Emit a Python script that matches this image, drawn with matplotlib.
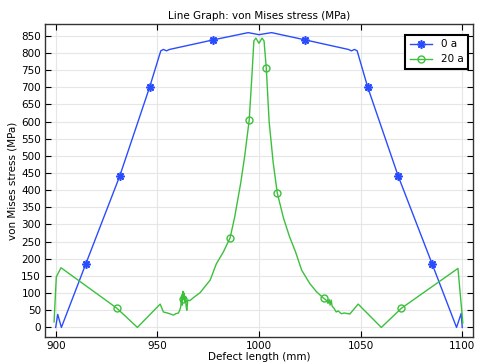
import matplotlib
matplotlib.use("Agg")
import matplotlib.pyplot as plt

# ---- data ----
x_0a = [900, 901, 902.8, 914.8, 931.5, 946.2, 951.7, 953, 954.5, 956, 977.6,
        994.7, 1000, 1006.2, 1022.6, 1044, 1045.5, 1047, 1048.3, 1053.5,
        1068.5, 1085.2, 1097.2, 1099.5, 1100]
y_0a = [0, 38, 0, 185, 441, 700, 806, 810, 806, 810, 838,
        859, 853, 859, 838, 810, 806, 810, 806, 700,
        441, 185, 0, 41, 0]
mk_0a = [3, 4, 5, 10, 14, 19, 20, 21]

x_20a = [899.2, 900.3, 902.6, 930.1, 940.2, 951.4, 953, 955, 957, 958, 959,
         960.4, 961, 961.5, 962, 962.3, 962.6, 962.8, 963.2, 963.5, 963.8,
         964.2, 964.5, 965, 966, 968, 971, 976, 979, 982.5, 985.8, 988,
         991, 993, 995.2, 996.5, 997.5, 998.5, 1000, 1001.5, 1002.5, 1003.6,
         1005, 1007, 1009, 1012, 1015, 1018, 1021, 1025, 1028.3, 1031.8,
         1033, 1034, 1034.5, 1035, 1035.5, 1036, 1037, 1038, 1039, 1040.5,
         1042, 1044.7, 1048.8, 1060.2, 1070.1, 1097.9, 1100.3]
y_20a = [16, 147, 174, 56, 0, 68, 45, 42, 38, 36, 40,
         42, 50, 60, 95, 65, 105, 82, 100, 75, 90,
         60, 50, 80, 78, 88, 101, 138, 185, 220, 261, 320,
         420, 500, 604, 730, 835, 843, 828, 843, 835, 756,
         600, 480, 392, 320, 265, 220, 167, 128, 104, 85,
         80, 70, 82, 65, 80, 62, 55, 45, 48, 40,
         42, 39, 68, 0, 56, 172, 13]
mk_20a = [3, 17, 30, 34, 41, 44, 51, 66]

xticks = [900, 950, 1000, 1050, 1100]
yticks = list(range(0, 851, 50))

blue = '#2a4cff'
green = '#3cc03c'

fig = plt.figure(figsize=(4.8, 3.64), dpi=100)
ax = fig.add_axes([0.094, 0.075, 0.891, 0.858])

ax.plot(x_0a, y_0a, color=blue, lw=1.0, marker=(8, 2, 0), ms=6, mew=1.2,
        markevery=mk_0a, label='0 a')
ax.plot(x_20a, y_20a, color=green, lw=1.0, marker='o', ms=5, mew=1.0,
        mfc='none', markevery=mk_20a, label='20 a')

ax.set_xlim(894.8, 1105.2)
ax.set_ylim(-27, 883)
ax.set_xticks(xticks)
ax.set_yticks(yticks)
ax.grid(True, color='#e6e6e6', lw=0.8)
ax.set_axisbelow(True)
ax.tick_params(direction='in', top=True, right=True, labelsize=7.5,
               length=4, width=0.8, pad=3)
for s in ax.spines.values():
    s.set_linewidth(1.0)
    s.set_color('#333333')

ax.set_title('Line Graph: von Mises stress (MPa)', fontsize=7.5, pad=4)
ax.set_xlabel('Defect length (mm)', fontsize=7.5, labelpad=1)
ax.set_ylabel('von Mises stress (MPa)', fontsize=7.5, labelpad=3)

leg = ax.legend(loc='upper right', fontsize=7.5, fancybox=False,
                framealpha=1, edgecolor='black', borderpad=0.4,
                handlelength=2.2, borderaxespad=0,
                bbox_to_anchor=(0.988, 0.966))
leg.get_frame().set_linewidth(1.5)

fig.savefig('out.png', dpi=100)
